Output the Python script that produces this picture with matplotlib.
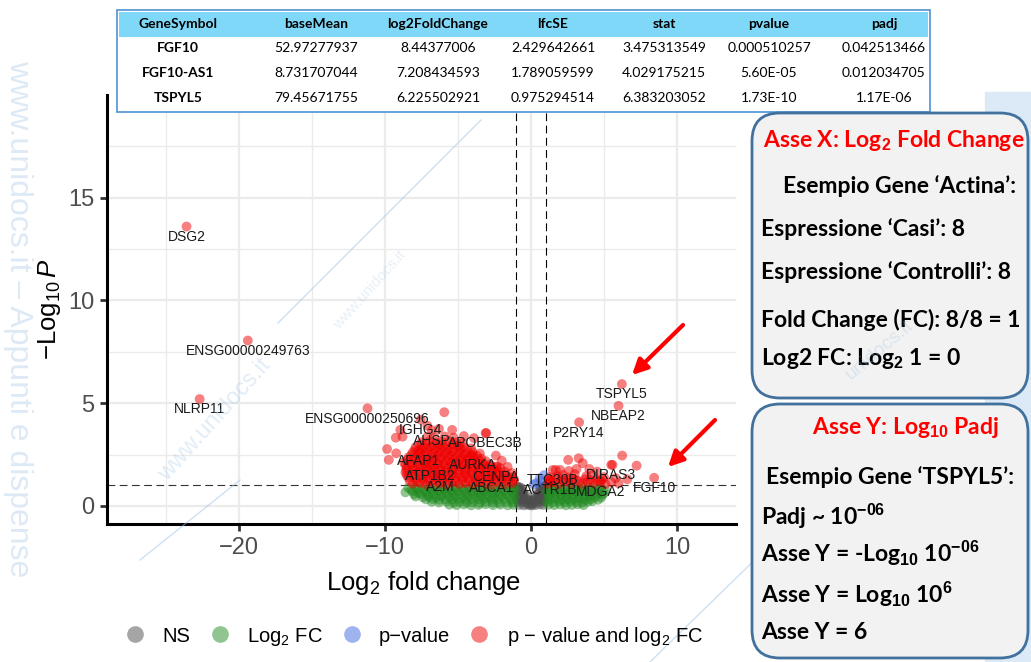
import matplotlib
import numpy as np

matplotlib.use("Agg")
import matplotlib.pyplot as plt
from matplotlib.lines import Line2D
from matplotlib.patches import FancyBboxPatch, Rectangle

plt.rcParams["font.family"] = ["Liberation Sans", "DejaVu Sans"]
plt.rcParams["mathtext.fontset"] = "custom"
plt.rcParams["mathtext.rm"] = "Liberation Sans"
plt.rcParams["mathtext.it"] = "Liberation Sans:italic"
plt.rcParams["mathtext.bf"] = "Liberation Sans:bold"

W, H = 1031, 662

# ---- volcano data (log2 fold change, -log10 padj) ----
genes = ["DSG2", "ENSG00000249763", "NLRP11", "ENSG00000250696", "IGHG4",
         "AHSP", "APOBEC3B", "AFAP1", "AURKA", "ATP1B2", "CENPA", "A2M",
         "ABCA1", "TTC30B", "ACTR1B", "MDGA2", "DIRAS3", "FGF10", "P2RY14",
         "NBEAP2", "TSPYL5"]
gene_lfc = [-23.6, -19.4, -22.7, -11.2, -7.55, -6.8, -3.1, -7.7, -4.0, -6.9,
            -2.4, -6.2, -2.7, 1.5, 1.35, 4.8, 5.5, 8.44, 3.3, 6.0, 6.23]
gene_logp = [13.6, 8.05, 5.2, 4.75, 4.2, 3.68, 3.55, 2.7, 2.48, 1.97,
             1.9, 1.42, 1.4, 1.75, 1.27, 1.2, 2.0, 1.37, 4.07, 4.87, 5.93]

# down-regulated significant cloud
down_x = [-8.1, -7.6, -7.2, -6.7, -6.3, -5.8, -5.4, -4.9, -4.5, -4.0, -3.6, -3.1, -2.7, -2.2, -1.8, -1.3,
          -8.3, -7.85, -7.4, -6.95, -6.5, -6.05, -5.6, -5.15, -4.7, -4.25, -3.8, -3.35, -2.9, -2.45, -2.0, -1.55, -1.2,
          -8.4, -7.9, -7.4, -7.0, -6.5, -6.1, -5.6, -5.2, -4.7, -4.3, -3.8, -3.4, -2.9, -2.5, -2.0, -1.5, -1.15,
          -8.5, -8.05, -7.6, -7.15, -6.7, -6.25, -5.8, -5.35, -4.9, -4.45, -4.0, -3.55, -3.1, -2.65, -2.2, -1.7, -1.3,
          -8.6, -8.1, -7.7, -7.2, -6.8, -6.3, -5.9, -5.4, -5.0, -4.5, -4.1, -3.6, -3.2, -2.7, -2.3, -1.8,
          -8.55, -8.1, -7.65, -7.2, -6.75, -6.3, -5.85, -5.4, -4.95, -4.5, -4.05, -3.6, -3.15, -2.7, -2.25, -1.8,
          -8.5, -8.0, -7.5, -7.1, -6.6, -6.2, -5.7, -5.3, -4.8, -4.4, -3.9, -3.5, -3.0, -2.5, -2.1,
          -8.6, -8.15, -7.7, -7.25, -6.8, -6.35, -5.9, -5.45, -5.0, -4.55, -4.1, -3.65, -3.2, -2.75, -2.3,
          -8.7, -8.2, -7.8, -7.3, -6.9, -6.4, -6.0, -5.5, -5.1, -4.6, -4.2, -3.7, -3.3, -2.8,
          -8.5, -8.05, -7.6, -7.15, -6.7, -6.25, -5.8, -5.35, -4.9, -4.45, -4.0, -3.55, -3.1,
          -8.4, -7.9, -7.5, -7.0, -6.6, -6.1, -5.7, -5.2, -4.8, -4.3, -3.9, -3.4,
          -8.2, -7.75, -7.3, -6.85, -6.4, -5.95, -5.5, -5.05, -4.6, -4.15, -3.7,
          -8.1, -7.6, -7.2, -6.7, -6.3, -5.8, -5.4, -4.9, -4.5, -4.0, -3.5,
          -7.95, -7.5, -7.05, -6.6, -6.15, -5.7, -5.25, -4.8, -4.35,
          -7.9, -7.3, -6.9, -6.4, -6.0, -5.5, -5.0, -4.6, -4.1,
          -7.6, -7.15, -6.7, -6.25, -5.8, -5.35, -4.9,
          -7.5, -7.0, -6.5, -6.1, -5.6, -5.1, -4.7,
          -7.1, -6.6, -5.9, -5.3,
          -5.94, -5.4, -3.07, -9.86, -9.74, -9.23, -9.26, -8.8, -8.95, -7.1, -6.3,
          -4.6, -3.9, -2.4, -2.0, -1.6, -1.3]
down_y = [1.08, 1.12, 1.05, 1.15, 1.09, 1.04, 1.13, 1.07, 1.11, 1.05, 1.14, 1.08, 1.03, 1.12, 1.06, 1.1,
          1.22, 1.2, 1.25, 1.19, 1.23, 1.21, 1.26, 1.18, 1.24, 1.2, 1.22, 1.25, 1.19, 1.23, 1.21, 1.2, 1.24,
          1.38, 1.32, 1.36, 1.3, 1.4, 1.34, 1.37, 1.31, 1.39, 1.33, 1.36, 1.3, 1.38, 1.35, 1.32, 1.37, 1.29,
          1.48, 1.5, 1.46, 1.49, 1.47, 1.51, 1.45, 1.49, 1.48, 1.5, 1.46, 1.47, 1.52, 1.45, 1.49, 1.44, 1.4,
          1.62, 1.57, 1.64, 1.58, 1.61, 1.55, 1.66, 1.6, 1.57, 1.63, 1.59, 1.65, 1.56, 1.61, 1.58, 1.52,
          1.73, 1.75, 1.71, 1.74, 1.72, 1.76, 1.7, 1.74, 1.73, 1.75, 1.71, 1.72, 1.76, 1.7, 1.69, 1.67,
          1.86, 1.82, 1.89, 1.83, 1.87, 1.8, 1.88, 1.84, 1.9, 1.81, 1.86, 1.83, 1.88, 1.79, 1.84,
          1.98, 2.0, 1.96, 1.99, 1.97, 2.01, 1.95, 1.99, 1.98, 2.0, 1.96, 1.97, 1.99, 1.94, 1.92,
          2.12, 2.07, 2.13, 2.09, 2.15, 2.06, 2.11, 2.14, 2.08, 2.12, 2.05, 2.1, 2.07, 2.02,
          2.23, 2.25, 2.21, 2.24, 2.22, 2.26, 2.2, 2.24, 2.23, 2.25, 2.21, 2.22, 2.18,
          2.36, 2.33, 2.38, 2.31, 2.37, 2.34, 2.39, 2.32, 2.36, 2.33, 2.35, 2.3,
          2.48, 2.5, 2.46, 2.49, 2.47, 2.51, 2.45, 2.49, 2.48, 2.46, 2.44,
          2.61, 2.58, 2.63, 2.57, 2.62, 2.59, 2.64, 2.6, 2.56, 2.62, 2.55,
          2.73, 2.75, 2.71, 2.74, 2.72, 2.76, 2.7, 2.74, 2.7,
          2.86, 2.83, 2.88, 2.84, 2.87, 2.82, 2.89, 2.85, 2.8,
          2.98, 3.0, 2.96, 2.99, 2.97, 3.01, 2.95,
          3.1, 3.13, 3.08, 3.12, 3.15, 3.09, 3.06,
          3.36, 3.33, 3.38, 3.32,
          4.56, 3.7, 3.54, 2.77, 2.24, 2.56, 3.32, 3.37, 3.7, 3.9, 3.75,
          3.4, 3.3, 2.45, 2.2, 1.9, 1.6]

# up-regulated significant cloud
up_x = [2.55, 3.27, 3.12, 1.7, 6.25, 5.59, 7.24, 3.55, 4.54,
        1.15, 1.5, 1.9, 2.3, 2.7, 3.1, 3.5, 3.9, 4.3, 4.7, 5.1, 5.5, 6.0,
        1.3, 1.7, 2.1, 2.5, 2.9, 3.3, 3.7, 4.1, 4.5, 4.9,
        1.3, 1.8, 2.2, 2.6, 3.0, 3.8, 4.2, 5.0, 5.8, 6.6, 2.0, 2.6, 4.0, 1.25]
up_y = [2.24, 2.32, 1.8, 1.75, 2.45, 2.0, 1.96, 2.08, 1.67,
        1.08, 1.15, 1.05, 1.2, 1.1, 1.25, 1.08, 1.18, 1.1, 1.22, 1.06, 1.15, 1.1,
        1.22, 1.3, 1.28, 1.25, 1.32, 1.2, 1.3, 1.26, 1.24, 1.3,
        1.4, 1.45, 1.5, 1.38, 1.55, 1.45, 1.5, 1.4, 1.35, 1.3, 1.75, 1.7, 1.8, 1.25]

# large fold change, not significant
fc_x = [-8.4, -7.9, -7.5, -7.0, -6.6, -6.1, -5.7, -5.2, -4.8, -4.3, -3.9, -3.4, -3.0, -2.5, -2.1, -1.6, -1.2,
        -8.2, -7.75, -7.3, -6.85, -6.4, -5.95, -5.5, -5.05, -4.6, -4.15, -3.7, -3.25, -2.8, -2.35, -1.9, -1.45, -1.1,
        -8.6, -8.1, -7.7, -7.2, -6.8, -6.3, -5.9, -5.4, -5.0, -4.5, -4.1, -3.6, -3.2, -2.7, -2.3, -1.8, -1.3,
        -8.0, -7.55, -7.1, -6.65, -6.2, -5.75, -5.3, -4.85, -4.4, -3.95, -3.5, -3.05, -2.6, -2.15, -1.7, -1.2,
        -7.9, -7.4, -7.0, -6.5, -6.1, -5.6, -5.2, -4.7, -4.3, -3.8, -3.4, -2.9, -2.5, -2.0, -1.5, -1.1,
        -7.2, -6.75, -6.3, -5.85, -5.4, -4.95, -4.5, -4.05, -3.6, -3.15, -2.7, -2.25, -1.8, -1.35,
        -6.8, -6.3, -5.8, -5.3, -4.9, -4.4, -4.0, -3.5, -3.1, -2.6, -2.2, -1.7, -1.25,
        -5.6, -5.1, -4.6, -4.1, -3.6, -3.1, -2.6, -2.1, -1.6, -1.2,
        1.2, 1.6, 2.0, 2.4, 2.8, 3.2, 3.6, 4.0, 4.4, 4.8,
        1.4, 1.8, 2.2, 2.6, 3.0, 3.4, 3.8, 4.2, 4.6, 5.1,
        1.1, 1.5, 1.9, 2.3, 2.7, 3.1, 3.5, 3.9, 4.3, 4.7, 5.0,
        1.3, 1.7, 2.1, 2.5, 2.9, 3.3, 3.7, 4.1, 4.5, 4.9,
        1.2, 1.6, 2.0, 2.4, 2.8, 3.2, 3.6, 4.0, 4.4, 4.8,
        1.3, 1.7, 2.1, 2.5, 2.9, 3.3, 3.7, 4.1, 4.6,
        1.1, 1.5, 1.9, 2.3, 2.7, 3.1, 3.5, 3.9, 4.2,
        1.2, 1.6, 2.0, 2.4, 2.8, 3.2, 3.6]
fc_y = [0.88, 0.9, 0.85, 0.92, 0.87, 0.9, 0.84, 0.91, 0.88, 0.86, 0.93, 0.89, 0.85, 0.9, 0.87, 0.92, 0.86,
        0.78, 0.8, 0.76, 0.79, 0.77, 0.81, 0.75, 0.79, 0.78, 0.8, 0.76, 0.77, 0.81, 0.75, 0.79, 0.78, 0.8,
        0.66, 0.7, 0.64, 0.69, 0.67, 0.71, 0.65, 0.68, 0.72, 0.66, 0.69, 0.63, 0.7, 0.67, 0.65, 0.71, 0.68,
        0.56, 0.58, 0.54, 0.57, 0.55, 0.59, 0.53, 0.57, 0.56, 0.58, 0.54, 0.55, 0.59, 0.53, 0.57, 0.55,
        0.46, 0.42, 0.45, 0.41, 0.47, 0.43, 0.44, 0.4, 0.46, 0.42, 0.45, 0.43, 0.41, 0.47, 0.44, 0.42,
        0.32, 0.34, 0.3, 0.33, 0.31, 0.35, 0.29, 0.33, 0.32, 0.34, 0.3, 0.31, 0.35, 0.3,
        0.2, 0.17, 0.21, 0.15, 0.19, 0.16, 0.18, 0.14, 0.2, 0.17, 0.15, 0.19, 0.16,
        0.06, 0.04, 0.07, 0.03, 0.05, 0.08, 0.04, 0.06, 0.03, 0.05,
        0.9, 0.88, 0.92, 0.87, 0.91, 0.86, 0.9, 0.89, 0.85, 0.88,
        0.78, 0.8, 0.76, 0.79, 0.77, 0.81, 0.75, 0.79, 0.78, 0.76,
        0.68, 0.66, 0.7, 0.65, 0.69, 0.67, 0.71, 0.64, 0.68, 0.66, 0.62,
        0.56, 0.58, 0.54, 0.57, 0.55, 0.59, 0.53, 0.57, 0.56, 0.54,
        0.45, 0.43, 0.47, 0.42, 0.46, 0.44, 0.41, 0.45, 0.43, 0.4,
        0.32, 0.34, 0.3, 0.33, 0.31, 0.35, 0.29, 0.33, 0.3,
        0.2, 0.18, 0.22, 0.17, 0.21, 0.19, 0.16, 0.2, 0.23,
        0.06, 0.04, 0.07, 0.03, 0.05, 0.08, 0.04]

# not significant
ns_x = [-0.9, -0.55, -0.2, 0.2, 0.55, 0.9, -0.9, -0.6, -0.3, 0.3, 0.6, 0.9,
        -0.85, -0.5, 0.5, 0.85, -0.9, -0.7, 0.7, 0.9, -0.95, -0.8, 0.8, 0.95,
        0.0, -0.1, 0.1,
        -0.8, -0.5, -0.25, 0.05, 0.3, 0.6, 0.85,
        -0.95, -0.7, -0.45, -0.15, 0.15, 0.45, 0.7, 0.95,
        -0.8, -0.55, -0.3, 0.3, 0.55, 0.8,
        -0.95, -0.75, -0.55, 0.55, 0.75, 0.95,
        -0.85, -0.65, 0.65, 0.85]
ns_y = [0.2, 0.18, 0.15, 0.16, 0.2, 0.22, 0.42, 0.4, 0.35, 0.36, 0.41, 0.44,
        0.62, 0.55, 0.57, 0.63, 0.8, 0.76, 0.78, 0.82, 0.95, 0.92, 0.94, 0.96,
        0.25, 0.05, 0.08,
        0.05, 0.03, 0.06, 0.02, 0.04, 0.07, 0.05,
        0.3, 0.28, 0.32, 0.27, 0.29, 0.33, 0.3, 0.31,
        0.5, 0.52, 0.48, 0.47, 0.51, 0.53,
        0.7, 0.68, 0.72, 0.71, 0.67, 0.73,
        0.88, 0.86, 0.87, 0.9]

# significant p only
p_x = [0.4, 0.6, 0.75, 0.9, 0.2]
p_y = [1.12, 1.35, 1.2, 1.5, 1.05]

fc_cut = 1.0
p_cut = 1.0

# ---- table and explanation text ----
table_cols = ["GeneSymbol", "baseMean", "log2FoldChange", "lfcSE", "stat", "pvalue", "padj"]
table_rows = [
    ["FGF10", "52.97277937", "8.44377006", "2.429642661", "3.475313549", "0.000510257", "0.042513466"],
    ["FGF10-AS1", "8.731707044", "7.208434593", "1.789059599", "4.029175215", "5.60E-05", "0.012034705"],
    ["TSPYL5", "79.45671755", "6.225502921", "0.975294514", "6.383203052", "1.73E-10", "1.17E-06"],
]
box_x_lines = [
    r"Asse X: Log$_\mathbf{2}$ Fold Change",
    "Esempio Gene ‘Actina’:",
    "Espressione ‘Casi’: 8",
    "Espressione ‘Controlli’: 8",
    "Fold Change (FC): 8/8 = 1",
    r"Log2 FC: Log$_\mathbf{2}$ 1 = 0",
]
box_y_lines = [
    r"Asse Y: Log$_\mathbf{10}$ Padj",
    "Esempio Gene ‘TSPYL5’:",
    r"Padj ~ 10$^\mathbf{-06}$",
    r"Asse Y = -Log$_\mathbf{10}$ 10$^\mathbf{-06}$",
    r"Asse Y = Log$_\mathbf{10}$ 10$^\mathbf{6}$",
    "Asse Y = 6",
]

lfc = np.array(gene_lfc + down_x + up_x + fc_x + ns_x + p_x)
logp = np.array(gene_logp + down_y + up_y + fc_y + ns_y + p_y)
big_fc = np.abs(lfc) > fc_cut
sig_p = logp > p_cut
groups = [
    ("NS", ~big_fc & ~sig_p, "#4D4D4D"),
    ("Log$_2$ FC", big_fc & ~sig_p, "#228B22"),
    ("p\u2212value", ~big_fc & sig_p, "#4169E1"),
    ("p \u2212 value and log$_2$ FC", big_fc & sig_p, "#EE0000"),
]

fig = plt.figure(figsize=(W / 100, H / 100), dpi=100)
fig.patch.set_facecolor("white")
ax = fig.add_axes([107 / W, 1 - 524 / H, 629 / W, 429 / H])

for name, mask, col in groups:
    ax.scatter(lfc[mask], logp[mask], s=50, color=col, alpha=0.5,
               edgecolors="none", zorder=3)

for g, x, y in zip(genes, gene_lfc, gene_logp):
    ax.annotate(g, (x, y), xytext=(0, -7.5), textcoords="offset points",
                ha="center", va="center", fontsize=10, color="#1A1A1A", zorder=4)

ax.axvline(-fc_cut, color="black", lw=0.8, ls=(0, (7, 4)), zorder=2)
ax.axvline(fc_cut, color="black", lw=0.8, ls=(0, (7, 4)), zorder=2)
ax.axhline(p_cut, color="#333333", lw=0.8, ls=(0, (7, 4)), zorder=2)

ax.set_xlim(-29.05, 14.05)
ax.set_ylim(-0.88, 20.0)
ax.set_xticks([-20, -10, 0, 10])
ax.set_yticks([0, 5, 10, 15])
ax.set_xticks([-25, -15, -5, 5], minor=True)
ax.set_yticks([2.5, 7.5, 12.5, 17.5], minor=True)
ax.grid(which="major", color="#EBEBEB", lw=1.6, zorder=0)
ax.grid(which="minor", color="#EBEBEB", lw=1.0, zorder=0)
ax.set_axisbelow(True)
for s in ["top", "right"]:
    ax.spines[s].set_visible(False)
for s in ["left", "bottom"]:
    ax.spines[s].set_linewidth(2.2)
    ax.spines[s].set_color("black")
ax.tick_params(which="major", length=5, width=2, color="#333333",
               labelsize=17, labelcolor="#4D4D4D", pad=4)
ax.tick_params(which="minor", length=0)
ax.set_xlabel(r"Log$_2$ fold change", fontsize=18.5)
ax.set_ylabel(r"$-\mathrm{Log}_{10}\,P$", fontsize=18.5)
ax.xaxis.set_label_coords(0.504, -0.105)
ax.yaxis.set_label_coords(-0.07, 0.5)

handles = [Line2D([], [], marker="o", ls="", markersize=12, color=col,
                  alpha=0.5, markeredgewidth=0) for _, _, col in groups]
fig.legend(handles, [n for n, _, _ in groups], ncol=4, frameon=False,
           loc="center", bbox_to_anchor=(414 / W, 1 - 636 / H), fontsize=14.5,
           handletextpad=0.85, columnspacing=0.95, handlelength=1.0)

# ---- overlay in pixel coordinates: watermark, table, boxes, arrows ----
ov = fig.add_axes([0, 0, 1, 1], zorder=5)
ov.set_xlim(0, W)
ov.set_ylim(H, 0)
ov.axis("off")

wm = "#9DC3E6"
ov.text(18, 60, "www.unidocs.it \u2013 Appunti e dispense", rotation=270,
        ha="center", va="top", fontsize=23, color=wm, alpha=0.35)
ov.text(215, 420, "www.unidocs.it", rotation=48, ha="center", va="center",
        fontsize=17, color=wm, alpha=0.3)
ov.text(370, 290, "www.unidocs.it", rotation=48, ha="center", va="center",
        fontsize=11, color=wm, alpha=0.25)
ov.text(880, 350, "unidocs.it", rotation=40, ha="center", va="center",
        fontsize=14, color=wm, alpha=0.3, zorder=8)
ov.plot([278, 481], [323, 120], color=wm, lw=1, alpha=0.5)
ov.plot([140, 240], [560, 480], color=wm, lw=1, alpha=0.5)
ov.plot([650, 770], [662, 545], color=wm, lw=1, alpha=0.5)

# light blue slide decoration on the right
ov.add_patch(Rectangle((985, 92), 46, 570, color="#DCEAF7", zorder=1))

# table
ov.add_patch(Rectangle((117, 10), 813, 102, facecolor="white",
                       edgecolor="#5B9BD5", lw=1.3, zorder=2))
ov.add_patch(Rectangle((119, 12), 809, 25, facecolor="#80D8F8",
                       edgecolor="none", zorder=3))
col_x = [178, 316, 438, 553, 664, 769, 884]
row_y = [48, 73, 98]
for cx, name in zip(col_x, table_cols):
    ov.text(cx, 24.5, name, ha="center", va="center", fontsize=10,
            fontweight="bold", family=["Lato", "DejaVu Sans"], zorder=4)
for ry, row in zip(row_y, table_rows):
    for j, (cx, val) in enumerate(zip(col_x, row)):
        ov.text(cx, ry, val, ha="center", va="center", fontsize=10,
                fontweight="bold" if j == 0 else "normal",
                family=["Lato", "DejaVu Sans"], zorder=4)

# explanation boxes
for (bx, by, bw, bh) in [(752, 113, 276, 285), (752, 404, 276, 254)]:
    ov.add_patch(FancyBboxPatch((bx, by), bw, bh,
                                boxstyle="round,pad=0,rounding_size=28",
                                facecolor="#F2F2F2", edgecolor="#41719C",
                                lw=2, zorder=6))

x_pos = [(763, 147), (783, 193), (761, 236), (761, 279), (761, 327), (761, 365)]
y_pos = [(812, 434), (766, 484), (761, 525), (761, 562), (761, 603), (761, 639)]
for lines, pos in [(box_x_lines, x_pos), (box_y_lines, y_pos)]:
    for i, (txt, (tx, ty)) in enumerate(zip(lines, pos)):
        ov.text(tx, ty, txt, ha="left", va="baseline", fontsize=16.5,
                fontweight="bold", family=["Lato", "DejaVu Sans"],
                color="#FF0000" if i == 0 else "black", zorder=7)

# red arrows
for tail, head in [((683, 325), (632, 375)), ((715, 420), (668, 467))]:
    ov.annotate("", xy=head, xytext=tail,
                arrowprops=dict(arrowstyle="-|>,head_length=0.9,head_width=0.45",
                                color="#FF0000", lw=3, shrinkA=0, shrinkB=0),
                zorder=7)

fig.savefig("out.png", dpi=100)
